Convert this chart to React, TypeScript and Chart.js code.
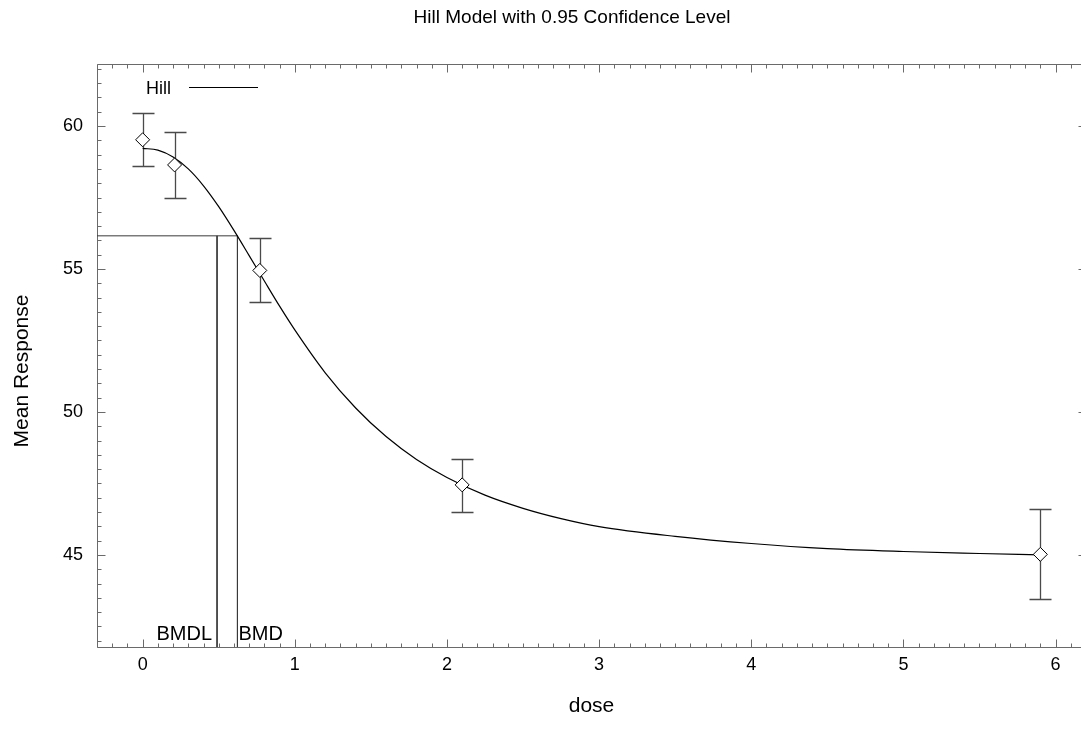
import React, { useEffect, useRef } from "react";
import { Chart, registerables } from "chart.js";

Chart.register(...registerables);

// ---- data ----
const doses = [0, 0.21, 0.77, 2.1, 5.9];
const meanResponse = [59.52, 58.64, 54.95, 47.45, 45.02];
const upperCI = [60.47, 59.78, 56.08, 48.36, 46.61];
const lowerCI = [58.6, 57.49, 53.83, 46.51, 43.46];

const curveDose = [0, 0.1, 0.2, 0.3, 0.4, 0.5, 0.6, 0.7, 0.8, 0.9, 1.0, 1.2, 1.4, 1.6, 1.8, 2.0, 2.25, 2.5, 2.75, 3.0, 3.5, 4.0, 4.5, 5.0, 5.5, 5.9];
const curveResponse = [59.22, 59.16, 58.92, 58.5, 57.91, 57.18, 56.35, 55.47, 54.58, 53.7, 52.87, 51.37, 50.14, 49.14, 48.34, 47.71, 47.09, 46.63, 46.27, 45.99, 45.65, 45.4, 45.22, 45.12, 45.05, 45.0];

const bmrLevel = 56.16;
const bmdValue = 0.623;
const bmdlValue = 0.489;

const xTickLabels = ["0", "1", "2", "3", "4", "5", "6"];
const yTickLabels = ["45", "50", "55", "60"];

const titleText = "Hill Model with 0.95 Confidence Level";
const xTitle = "dose";
const yTitle = "Mean Response";
const legendLabel = "Hill";

const X_MIN = -0.3;
const X_MAX = 6.2;
const Y_MIN = 41.78;
const Y_MAX = 62.17;

const FONT = '"Liberation Sans", Arial, Helvetica, sans-serif';

const decorPlugin = {
  id: "decor",
  beforeDatasetsDraw(chart: any) {
    const { ctx, chartArea: a, scales } = chart;
    const xs = scales.x;
    const ys = scales.y;
    ctx.save();
    ctx.strokeStyle = "#6a6a6a";
    ctx.lineWidth = 1;
    ctx.beginPath();
    const L = Math.round(a.left) + 0.5;
    const R = Math.round(a.right) + 0.5;
    const T = Math.round(a.top) + 0.5;
    const B = Math.round(a.bottom) + 0.5;
    ctx.moveTo(L, T);
    ctx.lineTo(R, T);
    ctx.lineTo(R, B);
    ctx.lineTo(L, B);
    ctx.closePath();
    xs.ticks.forEach((t: any) => {
      const v = t.value;
      const major = Math.abs(v - Math.round(v)) < 1e-6;
      const len = major ? 8 : 4;
      const px = Math.round(xs.getPixelForValue(v)) + 0.5;
      ctx.moveTo(px, B);
      ctx.lineTo(px, B - len);
      ctx.moveTo(px, T);
      ctx.lineTo(px, T + len);
    });
    ys.ticks.forEach((t: any) => {
      const v = t.value;
      const major = Math.abs(v / 5 - Math.round(v / 5)) < 1e-6;
      const len = major ? 8 : 4;
      const py = Math.round(ys.getPixelForValue(v)) + 0.5;
      ctx.moveTo(L, py);
      ctx.lineTo(L + len, py);
      ctx.moveTo(R, py);
      ctx.lineTo(R - len, py);
    });
    ctx.stroke();

    // error bars
    ctx.strokeStyle = "#4a4a4a";
    ctx.lineWidth = 1.3;
    ctx.beginPath();
    doses.forEach((d, i) => {
      const px = Math.round(xs.getPixelForValue(d)) + 0.5;
      const pu = Math.round(ys.getPixelForValue(upperCI[i])) + 0.5;
      const pl = Math.round(ys.getPixelForValue(lowerCI[i])) + 0.5;
      ctx.moveTo(px, pu);
      ctx.lineTo(px, pl);
      ctx.moveTo(px - 11, pu);
      ctx.lineTo(px + 11, pu);
      ctx.moveTo(px - 11, pl);
      ctx.lineTo(px + 11, pl);
    });
    ctx.stroke();
    ctx.restore();
  },
  afterDraw(chart: any) {
    const { ctx, chartArea: a, scales } = chart;
    const xs = scales.x;
    const ys = scales.y;
    ctx.save();
    ctx.fillStyle = "#000";

    // title
    ctx.font = `19px ${FONT}`;
    ctx.textAlign = "center";
    ctx.textBaseline = "alphabetic";
    ctx.fillText(titleText, 572, 23);

    // x title
    ctx.font = `21px ${FONT}`;
    ctx.fillText(xTitle, (a.left + a.right) / 2, 712);

    // y title
    ctx.save();
    ctx.translate(28, 371);
    ctx.rotate(-Math.PI / 2);
    ctx.fillText(yTitle, 0, 0);
    ctx.restore();

    // legend
    ctx.font = `18px ${FONT}`;
    ctx.textAlign = "right";
    ctx.fillText(legendLabel, 171, 94);
    ctx.strokeStyle = "#000";
    ctx.lineWidth = 1;
    ctx.beginPath();
    ctx.moveTo(189, 87.5);
    ctx.lineTo(258, 87.5);
    ctx.stroke();

    // BMD labels
    const yLab = Math.round(ys.getPixelForValue(Y_MIN)) - 7;
    ctx.font = `20px ${FONT}`;
    ctx.textAlign = "right";
    ctx.fillText("BMDL", xs.getPixelForValue(bmdlValue) - 5, yLab);
    ctx.textAlign = "left";
    ctx.fillText("BMD", xs.getPixelForValue(bmdValue) + 1, yLab);
    ctx.restore();
  },
};

export default function App() {
  const canvasRef = useRef<HTMLCanvasElement | null>(null);

  useEffect(() => {
    const canvas = canvasRef.current;
    if (!canvas) return;
    const chart = new Chart(canvas, {
      type: "scatter",
      data: {
        datasets: [
          {
            label: "Observed",
            data: doses.map((d, i) => ({ x: d, y: meanResponse[i] })),
            pointStyle: "rectRot",
            pointRadius: 7,
            pointBorderWidth: 1,
            borderColor: "#000",
            backgroundColor: "#fff",
            pointBackgroundColor: "#fff",
            pointBorderColor: "#000",
            showLine: false,
          } as any,
          {
            label: legendLabel,
            data: curveDose.map((d, i) => ({ x: d, y: curveResponse[i] })),
            showLine: true,
            borderColor: "#000",
            borderWidth: 1.2,
            pointRadius: 0,
            cubicInterpolationMode: "monotone",
          } as any,
          {
            label: "BMD",
            data: [
              { x: X_MIN, y: bmrLevel },
              { x: bmdValue, y: bmrLevel },
              { x: bmdValue, y: Y_MIN },
            ],
            showLine: true,
            borderColor: "#3a3a3a",
            borderWidth: 1,
            pointRadius: 0,
            tension: 0,
          } as any,
          {
            label: "BMDL",
            data: [
              { x: bmdlValue, y: bmrLevel },
              { x: bmdlValue, y: Y_MIN },
            ],
            showLine: true,
            borderColor: "#3a3a3a",
            borderWidth: 1,
            pointRadius: 0,
            tension: 0,
          } as any,
        ],
      },
      options: {
        responsive: false,
        animation: false,
        layout: { padding: { top: 64, right: 10, left: 0, bottom: 0 } },
        plugins: {
          legend: { display: false },
          tooltip: { enabled: false },
          title: { display: false },
        },
        scales: {
          x: {
            type: "linear",
            position: "bottom",
            min: X_MIN,
            max: X_MAX,
            grid: { display: false, drawTicks: false },
            border: { display: false },
            ticks: {
              stepSize: 0.1,
              autoSkip: false,
              maxRotation: 0,
              minRotation: 0,
              includeBounds: false,
              padding: 7,
              color: "#000",
              font: { family: FONT, size: 18 },
              callback: (v: any) => {
                const n = Math.round(Number(v));
                const s = String(n);
                return Math.abs(Number(v) - n) < 1e-6 && xTickLabels.includes(s) ? s : "";
              },
            },
            afterFit: (s: any) => {
              s.height = 93;
            },
          },
          y: {
            type: "linear",
            min: Y_MIN,
            max: Y_MAX,
            grid: { display: false, drawTicks: false },
            border: { display: false },
            ticks: {
              stepSize: 0.5,
              autoSkip: false,
              includeBounds: false,
              padding: 14,
              color: "#000",
              font: { family: FONT, size: 18 },
              callback: (v: any) => {
                const n = Math.round(Number(v));
                const s = String(n);
                return Math.abs(Number(v) - n) < 1e-6 && yTickLabels.includes(s) ? s : "";
              },
            },
            afterFit: (s: any) => {
              s.width = 97;
            },
          },
        },
      } as any,
      plugins: [decorPlugin],
    });
    return () => chart.destroy();
  }, []);

  return (
    <div
      style={{
        position: "absolute",
        left: 0,
        top: 0,
        width: 1081,
        height: 740,
        overflow: "hidden",
        background: "#fff",
      }}
    >
      <canvas ref={canvasRef} width={1096} height={740} style={{ display: "block" }} />
    </div>
  );
}
